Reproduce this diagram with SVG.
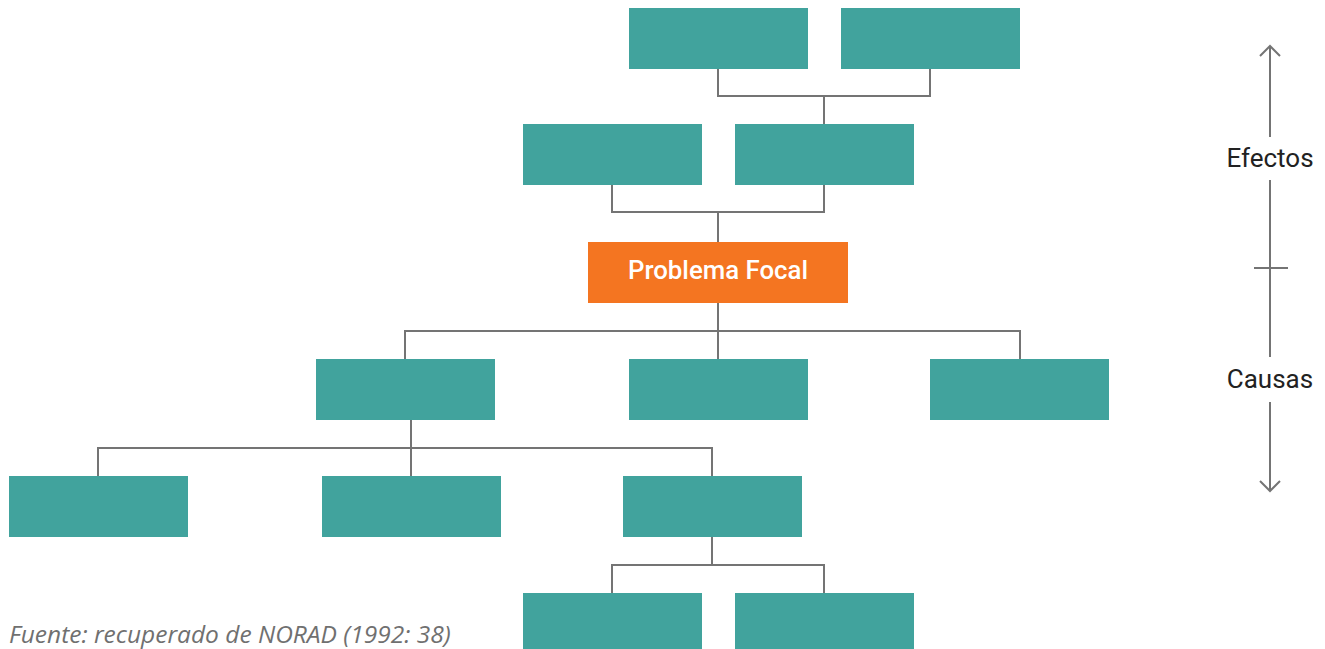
<svg xmlns="http://www.w3.org/2000/svg" width="1325" height="649" viewBox="0 0 1325 649">
<defs>
<style>
.box{fill:#41a39d}
.focal{fill:#f47521}
.ln{fill:none;stroke:#747474;stroke-width:2}
.ft{font-family:Roboto,"Liberation Sans",sans-serif;font-size:25.8px;font-weight:500;fill:#ffffff}
.ax{font-family:Roboto,"Liberation Sans",sans-serif;font-size:26px;fill:#222222}
.cap{font-family:"Open Sans","Liberation Sans",sans-serif;font-style:italic;font-size:24.5px;fill:#707070}
</style>
</defs>
<rect width="1325" height="649" fill="#ffffff"/>
<g id="connectors">
<path class="ln" d="M718 69V96H930V69M824 96V124"/>
<path class="ln" d="M612 185V212H824V185M718 212V242"/>
<path class="ln" d="M718 303V359M405 359V331H1020V359"/>
<path class="ln" d="M411 420V476M98 476V448H712V476"/>
<path class="ln" d="M712 537V565M612 593V565H824V593"/>
</g>
<g id="e1"><rect class="box" x="629" y="8" width="179" height="61"/></g>
<g id="e2"><rect class="box" x="841" y="8" width="179" height="61"/></g>
<g id="e3"><rect class="box" x="523" y="124" width="179" height="61"/></g>
<g id="e4"><rect class="box" x="735" y="124" width="179" height="61"/></g>
<g id="focal"><rect class="focal" x="588" y="242" width="260" height="61"/><text class="ft" x="718" y="279" text-anchor="middle">Problema Focal</text></g>
<g id="c1"><rect class="box" x="316" y="359" width="179" height="61"/></g>
<g id="c2"><rect class="box" x="629" y="359" width="179" height="61"/></g>
<g id="c3"><rect class="box" x="930" y="359" width="179" height="61"/></g>
<g id="c4"><rect class="box" x="9" y="476" width="179" height="61"/></g>
<g id="c5"><rect class="box" x="322" y="476" width="179" height="61"/></g>
<g id="c6"><rect class="box" x="623" y="476" width="179" height="61"/></g>
<g id="c7"><rect class="box" x="523" y="593" width="179" height="61"/></g>
<g id="c8"><rect class="box" x="735" y="593" width="179" height="61"/></g>
<g id="axis">
<path class="ln" d="M1270 46V137M1260 56L1270 46L1280 56"/>
<path class="ln" d="M1270 180V357M1254 268H1288"/>
<path class="ln" d="M1270 402V491M1260 481L1270 491L1280 481"/>
<text class="ax" x="1270" y="167" text-anchor="middle">Efectos</text>
<text class="ax" x="1270" y="388" text-anchor="middle">Causas</text>
</g>
<text class="cap" x="9" y="643">Fuente: recuperado de NORAD (1992: 38)</text>
</svg>
